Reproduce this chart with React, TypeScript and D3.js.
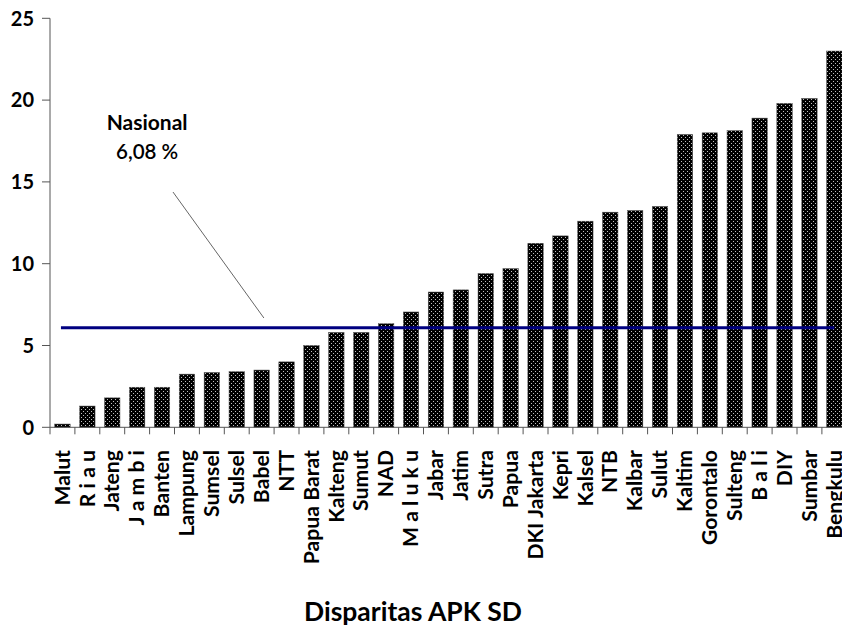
import React from "react";
import * as d3 from "d3";

const categories = ["Malut","R i a u","Jateng","J a m b i","Banten","Lampung","Sumsel","Sulsel","Babel","NTT","Papua Barat","Kalteng","Sumut","NAD","M a l u k u","Jabar","Jatim","Sutra","Papua","DKI Jakarta","Kepri","Kalsel","NTB","Kalbar","Sulut","Kaltim","Gorontalo","Sulteng","B a l i","DIY","Sumbar","Bengkulu"];
const values = [0.2,1.3,1.8,2.45,2.45,3.25,3.35,3.4,3.5,4.0,5.0,5.8,5.8,6.33,7.05,8.27,8.4,9.4,9.7,11.25,11.7,12.6,13.15,13.25,13.5,17.9,18.0,18.13,18.9,19.8,20.1,23.0];
const yTicks = [0,5,10,15,20,25];
const nasional = 6.08;
const nasionalLabel = ["Nasional", "6,08 %"];
const title = "Disparitas APK SD";

const W = 842, H = 629;
const FONT = "Lato, 'Open Sans', sans-serif";

export default function App() {
  const x = d3.scaleBand<string>().domain(categories).range([50, 846.8]).paddingInner(0.38).paddingOuter(0.19);
  const y = d3.scaleLinear().domain([0, 25]).range([427.3, 18.3]);
  const idx = d3.scaleLinear().domain([0, categories.length]).range([50, 846.8]);
  const step = x.step();
  const first = categories[0], last = categories[categories.length - 1];

  return (
    <svg width={W} height={H} style={{ position: "absolute", left: 0, top: 0, background: "#fff" }}>
      <defs>
        <pattern id="dots" width={4} height={4} patternUnits="userSpaceOnUse">
          <rect width={4} height={4} fill="#000" />
          <rect x={1} y={1} width={1} height={1} fill="#fff" opacity={0.75} />
          <rect x={3} y={3} width={1} height={1} fill="#fff" opacity={0.75} />
        </pattern>
      </defs>
      {/* bars */}
      {categories.map((c, i) => (
        <rect key={c} x={x(c)} y={y(values[i])} width={x.bandwidth()} height={y(0) - y(values[i])}
          fill="url(#dots)" stroke="#555" strokeWidth={0.5} />
      ))}
      {/* axes */}
      <line x1={50} x2={50} y1={y(25)} y2={y(0)} stroke="#555" strokeWidth={1} />
      {yTicks.map(t => (
        <g key={t}>
          <line x1={42} x2={50} y1={y(t)} y2={y(t)} stroke="#555" strokeWidth={1} />
          <text x={34} y={y(t)} dy="0.36em" textAnchor="end" fontFamily={FONT} fontWeight={700} fontSize={20} fill="#000">{t}</text>
        </g>
      ))}
      <line x1={50} x2={846.8} y1={y(0)} y2={y(0)} stroke="#555" strokeWidth={1} />
      {d3.range(categories.length + 1).map(i => (
        <line key={i} x1={50 + i * step} x2={50 + i * step} y1={y(0)} y2={y(0) + 7} stroke="#555" strokeWidth={1} />
      ))}
      {categories.map(c => {
        const cx = (x(c) as number) + x.bandwidth() / 2;
        return (
          <text key={c} transform={`translate(${cx},450) rotate(-90) scale(1.06,1)`} dy="0.36em" textAnchor="end"
            fontFamily={FONT} fontWeight={700} fontSize={20} fill="#000">{c}</text>
        );
      })}
      {/* national line */}
      <line x1={(x(first) as number) + x.bandwidth() / 2 - 1.5} x2={(x(last) as number) + x.bandwidth() / 2}
        y1={y(nasional)} y2={y(nasional)} stroke="#000080" strokeWidth={3} />
      <line x1={idx(4.94)} y1={y(14.38)} x2={idx(8.59)} y2={y(6.68)} stroke="#666" strokeWidth={1} />
      <text x={idx(3.9)} y={y(18.2)} textAnchor="middle" fontFamily={FONT} fontWeight={700} fontSize={21} fill="#000">{nasionalLabel[0]}</text>
      <text x={idx(3.9)} y={y(16.4)} textAnchor="middle" fontFamily={FONT} fontWeight={600} fontSize={20.5} fill="#000">{nasionalLabel[1]}</text>
      <text x={413} y={621} textAnchor="middle" fontFamily={FONT} fontWeight={700} fontSize={26.5} fill="#000">{title}</text>
    </svg>
  );
}
